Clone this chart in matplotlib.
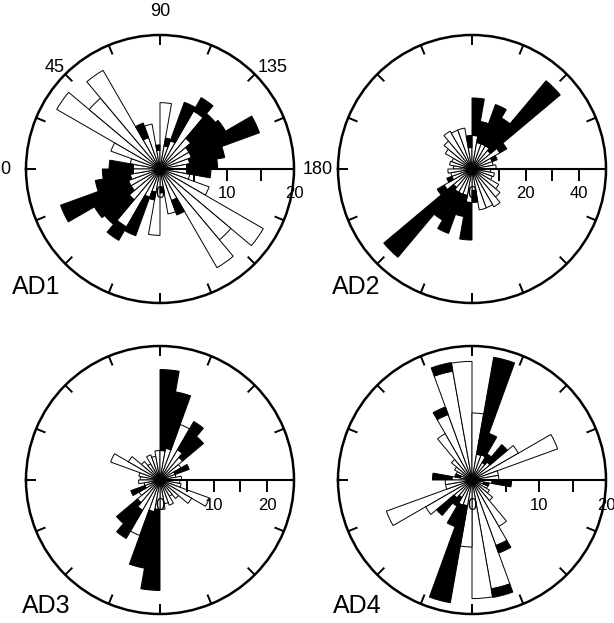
import numpy as np
import matplotlib.pyplot as plt

plt.rcParams['font.family'] = ['Liberation Sans', 'DejaVu Sans']

# 10 degree direction bins, 0-180 (axial data, mirrored to 180-360)
bins = np.arange(0, 180, 10)

# counts per bin: white = first set, black = second set stacked on top
ad1_white = [4, 4.5, 7.8, 17.8, 13.8, 17, 5, 6.8, 2.8, 9.9, 3.5, 4.5, 10, 6, 5, 5, 4.5, 4]
ad1_black = [3.6, 0, 0, 0, 0, 0, 2.3, 0, 0.8, 0, 1.2, 6.1, 2.3, 4.8, 6.3, 10.8, 5.3, 4.6]

ad2_white = [7, 8.5, 8, 11.5, 13.6, 16.3, 15.4, 15.5, 8, 12.5, 10, 10, 10, 9, 12, 8, 8, 9]
ad2_black = [0, 0, 0, 0, 0, 0, 0, 0, 4.5, 14, 8, 15.6, 12, 34, 3, 2, 0, 0]

ad3_white = [3.7, 4, 9.8, 6.8, 4.5, 3.5, 5, 4.5, 5.5, 5.5, 6, 11, 6.5, 5.5, 4.5, 3, 3, 4]
ad3_black = [0, 0, 0, 0, 0, 0, 0, 0, 0, 15.1, 10.7, 0, 6.1, 5.1, 0, 2.8, 0, 0]

ad4_white = [3, 1.8, 2.5, 3, 4, 8, 10.4, 16.5, 17.7, 10, 3.9, 4, 3, 3.5, 8, 13.6, 4, 4]
ad4_black = [2.9, 0.8, 0, 0, 0, 0, 1.2, 1.3, 0, 0, 14.7, 3.4, 1.5, 3.4, 0, 0, 0, 0]

panels = [
    # name, white, black, rmax, scale ticks, scale labels, centre (px), label pos (px)
    ('AD1', ad1_white, ad1_black, 20, [5, 10, 15], [0, 10, 20], (160, 169), (12, 294)),
    ('AD2', ad2_white, ad2_black, 50, [10, 20, 30, 40], [0, 20, 40], (472, 169), (332, 294)),
    ('AD3', ad3_white, ad3_black, 25, [5, 10, 15, 20], [0, 10, 20], (160, 480), (22, 613)),
    ('AD4', ad4_white, ad4_black, 20, [5, 10, 15], [0, 10, 20], (472, 480), (333, 613)),
]

W, H = 614, 623
R = 134  # circle radius in px

fig = plt.figure(figsize=(W / 100, H / 100), dpi=100)

for name, white, black, rmax, sticks, slabels, (cx, cy), (lx, ly) in panels:
    rect = [(cx - R) / W, (H - cy - R) / H, 2 * R / W, 2 * R / H]
    ax = fig.add_axes(rect, projection='polar')
    ax.set_theta_zero_location('W')
    ax.set_theta_direction(-1)

    white = np.array(white, dtype=float)
    black = np.array(black, dtype=float)
    width = np.deg2rad(10)
    for off in (0, 180):
        th = np.deg2rad(bins + off)
        ax.bar(th, white, width=width, align='edge', color='white',
               edgecolor='black', linewidth=0.7)
        m = black > 0
        ax.bar(th[m], black[m], width=width, bottom=white[m], align='edge',
               color='black', edgecolor='black', linewidth=0.7)

    # inward ticks on the outer circle every 22.5 degrees
    for t in np.deg2rad(np.arange(0, 360, 22.5)):
        ax.plot([t, t], [rmax * (1 - 10 / R), rmax], color='black', lw=1.4,
                solid_capstyle='butt')

    ax.set_ylim(0, rmax)
    ax.set_xticks([])
    ax.set_yticks([])
    ax.grid(False)
    ax.spines['polar'].set_linewidth(1.8)

    # radial scale drawn on a cartesian overlay
    ax2 = fig.add_axes(rect)
    ax2.set_xlim(-rmax, rmax)
    ax2.set_ylim(-rmax, rmax)
    ax2.axis('off')
    ax2.patch.set_alpha(0)
    px = rmax / R
    ax2.plot([0, rmax], [0, 0], color='black', lw=1.5, solid_capstyle='butt')
    for t in sticks:
        ax2.plot([t, t], [0, -12 * px], color='black', lw=1.4, solid_capstyle='butt')
    for v in slabels:
        ax2.text(v, -25 * px, str(v), ha='center', va='center', fontsize=12,
                 clip_on=False)

    if name == 'AD1':
        for txt, x, y in [('90', 0, 157), ('45', -105, 101), ('135', 113, 101),
                          ('0', -155, 0), ('180', 158, 0)]:
            ax2.text(x * px, y * px, txt, ha='center', va='center', fontsize=13,
                     clip_on=False)

    fig.text(lx / W, (H - ly) / H, name, ha='left', va='baseline', fontsize=18)

fig.savefig('out.png', dpi=100, facecolor='white')
